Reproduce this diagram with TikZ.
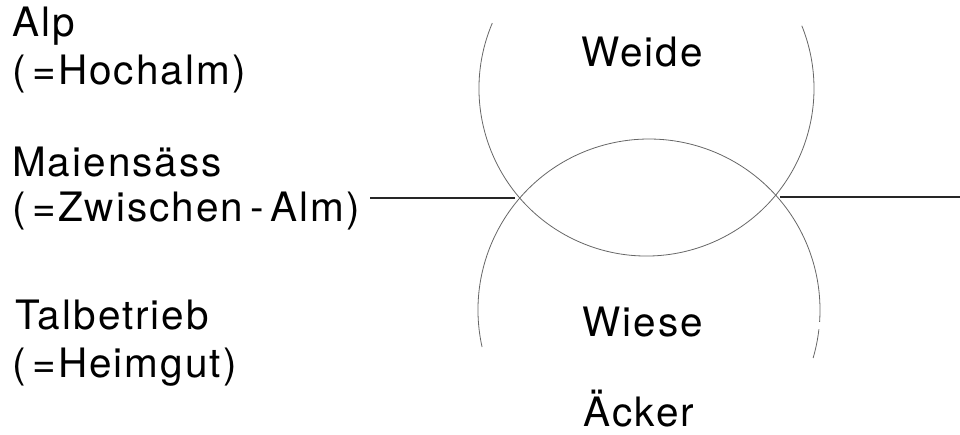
\documentclass[tikz,border=0pt]{standalone}
\usepackage{fontspec}
\setmainfont{TeX Gyre Heros}[LetterSpace=5]
\begin{document}
\begin{tikzpicture}[x=1pt,y=1pt,
  lbl/.style={inner sep=0pt,anchor=base west,font=\fontsize{40.5}{44}\selectfont},
  clbl/.style={inner sep=0pt,anchor=base,font=\fontsize{40.5}{44}\selectfont},
  arcline/.style={draw=black!60,line width=0.8pt},
  bar/.style={draw=black!85,line width=1.8pt}]
\useasboundingbox (0,0) rectangle (960,435);
% left labels
\node[lbl] (alp) at (12,398) {Alp};
\node[lbl] (alp2) at (12,350) {(\,=Hochalm)};
\node[lbl] (mai) at (12,258) {Maiensäss};
\node[lbl] (mai2) at (12,213) {(\,=Zwischen\,-\,Alm)};
\node[lbl] (tal) at (15,105) {Talbetrieb};
\node[lbl] (tal2) at (12,57) {(\,=Heimgut)};
% centre labels
\node[clbl] (weide) at (642,368) {Weide};
\node[clbl] (wiese) at (643,98) {Wiese};
\node[clbl] (acker) at (639,8) {Äcker};
% arcs
\draw[arcline] (646.5,346.5) ++(157:167.5) arc[start angle=157,end angle=382,radius=167.5];
\draw[arcline] (649,125) ++(192.5:171) arc[start angle=192.5,end angle=-4,radius=171];
\draw[arcline] (649,125) ++(-6.5:171) arc[start angle=-6.5,end angle=-16.3,radius=171];
% bars
\coordinate (l1) at (370,237);
\coordinate (l2) at (515,237);
\coordinate (r1) at (780,238);
\coordinate (r2) at (960,238);
\draw[bar] (l1) -- (l2);
\draw[bar] (r1) -- (r2);
\end{tikzpicture}
\end{document}
